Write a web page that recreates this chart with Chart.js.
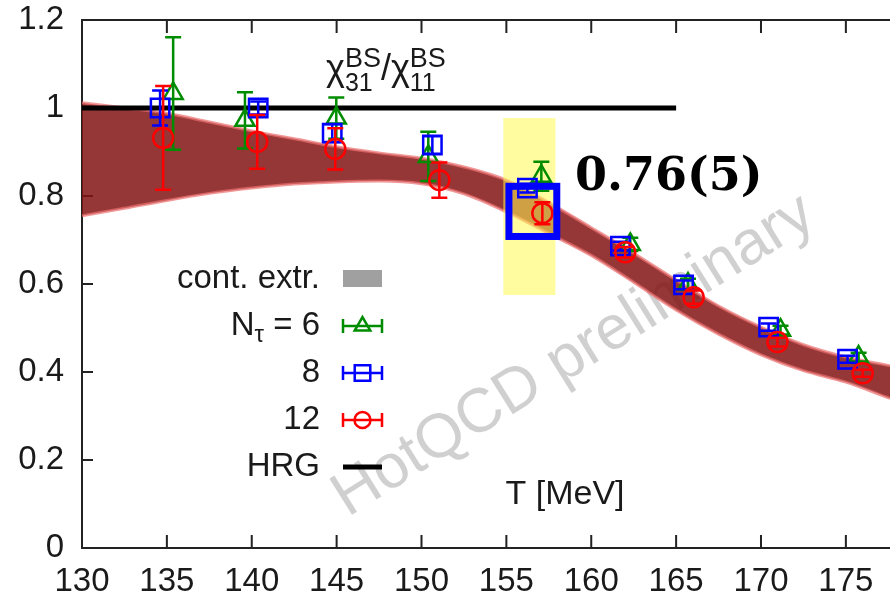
<!DOCTYPE html>
<html>
<head>
<meta charset="utf-8">
<script src="https://cdn.jsdelivr.net/npm/chart.js@4.4.0/dist/chart.umd.min.js"></script>
<style>
  html, body { margin: 0; padding: 0; background: #fff; }
  #wrap { width: 890px; height: 603px; }
</style>
</head>
<body>
<div id="wrap"><canvas id="myChart"></canvas></div>
<script>
// tick labels
const tempTicks = [130, 135, 140, 145, 150, 155, 160, 165, 170, 175];
const ratioTicks = [0, 0.2, 0.4, 0.6, 0.8, 1, 1.2];

// continuum extrapolation band
const bandT     = [130, 132.5, 135, 137.5, 140, 142.5, 145, 147.5, 150, 152.5, 155, 157.5, 160, 162.5, 165, 167.5, 170, 172.5, 175, 177.6];
const bandLower = [0.755, 0.772, 0.790, 0.806, 0.818, 0.827, 0.832, 0.834, 0.828, 0.805, 0.764, 0.715, 0.665, 0.604, 0.541, 0.486, 0.439, 0.403, 0.377, 0.340];
const bandUpper = [1.012, 1.000, 0.988, 0.968, 0.948, 0.930, 0.912, 0.898, 0.886, 0.866, 0.836, 0.785, 0.728, 0.670, 0.609, 0.550, 0.502, 0.462, 0.434, 0.414];

// HRG
const hrgT = [130, 165];
const hrgY = [1, 1];

// lattice data
const nt6T   = [135.37, 139.6, 144.98, 150.4, 157.06, 162.3, 165.7, 171.15, 175.75];
const nt6Y   = [1.033, 0.972, 0.977, 0.890, 0.845, 0.690, 0.600, 0.495, 0.434];
const nt6Err = [0.128, 0.064, 0.047, 0.056, 0.033, 0.015, 0.012, 0.010, 0.010];

const nt8T   = [134.6, 140.38, 144.74, 150.64, 156.24, 161.72, 165.44, 170.45, 175.1];
const nt8Y   = [1.000, 1.000, 0.943, 0.916, 0.818, 0.686, 0.598, 0.502, 0.429];
const nt8Err = [0.040, 0.015, 0.020, 0.020, 0.010, 0.010, 0.010, 0.008, 0.008];

const nt12T   = [134.78, 140.32, 144.92, 151.05, 157.12, 162.0, 166.03, 170.97, 175.99];
const nt12Y   = [0.932, 0.923, 0.907, 0.836, 0.761, 0.672, 0.570, 0.468, 0.397];
const nt12Err = [0.118, 0.061, 0.047, 0.040, 0.025, 0.012, 0.015, 0.010, 0.008];

// highlighted point
const highlightLabel = '0.76(5)';
const highlightX = [154.82, 157.89];
const highlightY = [0.575, 0.977];
const boxX = [155.15, 157.97];
const boxY = [0.708, 0.822];

const zip = (xs, ys) => xs.map((x, i) => ({ x: x, y: ys[i] }));

const GREEN = 'rgb(0,140,0)';
const BLUE = 'rgb(0,0,255)';
const RED = 'rgb(255,0,0)';
const SANS = "'Liberation Sans', Arial, sans-serif";

Chart.defaults.font.family = SANS;
Chart.defaults.color = '#1a1a1a';

// frame with inward ticks + watermark, drawn under the data
const framePlugin = {
    id: 'frame',
    beforeDatasetsDraw(chart) {
        const { ctx, chartArea: a, scales: { x, y } } = chart;
        ctx.save();
        // watermark
        ctx.translate(574, 356);
        ctx.rotate(-32 * Math.PI / 180);
        ctx.font = '62px ' + SANS;
        ctx.fillStyle = 'rgba(150,150,150,0.45)';
        ctx.textAlign = 'center';
        ctx.textBaseline = 'middle';
        ctx.fillText('HotQCD preliminary', 0, 0);
        ctx.restore();

        ctx.save();
        ctx.strokeStyle = '#222';
        ctx.lineWidth = 2;
        ctx.beginPath();
        ctx.moveTo(a.right + 2, a.top);
        ctx.lineTo(a.left, a.top);
        ctx.lineTo(a.left, a.bottom);
        ctx.lineTo(a.right + 2, a.bottom);
        tempTicks.forEach(t => {
            const p = x.getPixelForValue(t);
            ctx.moveTo(p, a.bottom); ctx.lineTo(p, a.bottom - 13);
            ctx.moveTo(p, a.top); ctx.lineTo(p, a.top + 13);
        });
        ratioTicks.forEach(v => {
            const p = y.getPixelForValue(v);
            ctx.moveTo(a.left, p); ctx.lineTo(a.left + 11, p);
        });
        ctx.stroke();
        ctx.restore();
    }
};

// error bars, yellow highlight, box, texts, legend
const overlayPlugin = {
    id: 'overlay',
    afterDatasetDraw(chart, args) {
        const { ctx, scales: { x, y } } = chart;
        const ds = chart.data.datasets[args.index];
        if (ds.label === 'HRG') {
            const x0 = x.getPixelForValue(highlightX[0]), x1 = x.getPixelForValue(highlightX[1]);
            const y0 = y.getPixelForValue(highlightY[1]), y1 = y.getPixelForValue(highlightY[0]);
            ctx.save();
            ctx.fillStyle = 'rgba(255,250,80,0.55)';
            ctx.fillRect(x0, y0, x1 - x0, y1 - y0);
            ctx.restore();
        }
        if (ds.errors) {
            ctx.save();
            ctx.strokeStyle = ds.borderColor;
            ctx.lineWidth = 2.5;
            ctx.beginPath();
            ds.data.forEach((d, i) => {
                const px = x.getPixelForValue(d.x);
                const top = y.getPixelForValue(d.y + ds.errors[i]);
                const bot = y.getPixelForValue(d.y - ds.errors[i]);
                ctx.moveTo(px, top); ctx.lineTo(px, bot);
                ctx.moveTo(px - 8, top); ctx.lineTo(px + 8, top);
                ctx.moveTo(px - 8, bot); ctx.lineTo(px + 8, bot);
            });
            ctx.stroke();
            ctx.restore();
        }
    },
    afterDraw(chart) {
        const { ctx, scales: { x, y } } = chart;
        ctx.save();
        // blue box
        const bx0 = x.getPixelForValue(boxX[0]), bx1 = x.getPixelForValue(boxX[1]);
        const by0 = y.getPixelForValue(boxY[1]), by1 = y.getPixelForValue(boxY[0]);
        ctx.strokeStyle = BLUE;
        ctx.lineWidth = 7;
        ctx.strokeRect(bx0, by0, bx1 - bx0, by1 - by0);

        ctx.fillStyle = '#000';
        ctx.textBaseline = 'alphabetic';
        ctx.textAlign = 'left';
        ctx.font = "bold 46px 'DejaVu Serif', serif";
        ctx.fillText(highlightLabel, 575, 190);

        // title chi^BS_31 / chi^BS_11
        ctx.fillStyle = '#1a1a1a';
        let cx = 326;
        const part = (main, sub, sup) => {
            ctx.font = '36px ' + SANS;
            ctx.fillText(main, cx, 80);
            cx += ctx.measureText(main).width;
            if (sub) {
                ctx.font = '25px ' + SANS;
                ctx.fillText(sub, cx, 91);
                const w1 = ctx.measureText(sub).width;
                ctx.font = '27px ' + SANS;
                ctx.fillText(sup, cx, 67);
                const w2 = ctx.measureText(sup).width;
                cx += Math.max(w1, w2);
            }
        };
        part('\u03c7', '31', 'BS');
        part('/');
        part('\u03c7', '11', 'BS');

        // axis label
        ctx.font = '34px ' + SANS;
        ctx.textAlign = 'center';
        ctx.textBaseline = 'middle';
        ctx.fillText('T [MeV]', 565, 495);

        // legend
        const rows = [279, 326, 373, 420, 467];
        const tx = 320, sx0 = 343, sx1 = 382, sc = (sx0 + sx1) / 2;
        ctx.textAlign = 'right';
        ctx.font = '33px ' + SANS;
        ctx.fillText('cont. extr.', tx, rows[0]);
        ctx.fillStyle = 'rgb(160,160,160)';
        ctx.fillRect(sx0, rows[0] - 9, sx1 - sx0, 17);
        ctx.fillStyle = '#1a1a1a';

        ctx.fillText(' = 6', tx, rows[1]);
        let w = ctx.measureText(' = 6').width;
        ctx.font = '24px ' + SANS;
        ctx.fillText('\u03c4', tx - w, rows[1] + 9);
        w += ctx.measureText('\u03c4').width;
        ctx.font = '33px ' + SANS;
        ctx.fillText('N', tx - w, rows[1]);
        ctx.fillText('8', tx, rows[2]);
        ctx.fillText('12', tx, rows[3]);
        ctx.fillText('HRG', tx, rows[4]);

        const sample = (row, color, style, r) => {
            ctx.strokeStyle = color;
            ctx.fillStyle = 'rgba(0,0,0,0)';
            ctx.lineWidth = 2.5;
            ctx.beginPath();
            ctx.moveTo(sx0, row); ctx.lineTo(sx1, row);
            ctx.moveTo(sx0, row - 7); ctx.lineTo(sx0, row + 7);
            ctx.moveTo(sx1, row - 7); ctx.lineTo(sx1, row + 7);
            ctx.stroke();
            Chart.helpers.drawPoint(ctx, { pointStyle: style, radius: r, rotation: 0, borderWidth: 2.5 }, sc, row);
        };
        sample(rows[1], GREEN, 'triangle', 9);
        sample(rows[2], BLUE, 'rect', 11);
        sample(rows[3], RED, 'circle', 8);
        ctx.strokeStyle = '#000';
        ctx.lineWidth = 5;
        ctx.beginPath();
        ctx.moveTo(sx0, rows[4]); ctx.lineTo(sx1, rows[4]);
        ctx.stroke();
        ctx.restore();
    }
};

const pointSet = (label, xs, ys, errs, color, style, r, order) => ({
    type: 'scatter',
    label: label,
    data: zip(xs, ys),
    errors: errs,
    showLine: false,
    borderColor: color,
    backgroundColor: 'rgba(0,0,0,0)',
    pointStyle: style,
    pointRadius: r,
    pointBorderWidth: 2.5,
    pointBorderColor: color,
    pointBackgroundColor: 'rgba(0,0,0,0)',
    clip: false,
    order: order
});

const ctx = document.getElementById('myChart').getContext('2d');
const myChart = new Chart(ctx, {
    type: 'scatter',
    data: {
        datasets: [
            {
                type: 'line', label: 'upper', data: zip(bandT, bandUpper),
                borderColor: 'rgba(235,110,110,0.7)', borderWidth: 3,
                backgroundColor: 'rgba(130,20,20,0.85)', fill: '+1',
                pointRadius: 0, cubicInterpolationMode: 'monotone', order: 10
            },
            {
                type: 'line', label: 'lower', data: zip(bandT, bandLower),
                borderColor: 'rgba(235,110,110,0.7)', borderWidth: 3,
                fill: false, pointRadius: 0, cubicInterpolationMode: 'monotone', order: 9
            },
            {
                type: 'line', label: 'HRG', data: zip(hrgT, hrgY),
                borderColor: '#000', borderWidth: 5, fill: false,
                pointRadius: 0, order: 8
            },
            pointSet('Nt6', nt6T, nt6Y, nt6Err, GREEN, 'triangle', 11, 3),
            pointSet('Nt8', nt8T, nt8Y, nt8Err, BLUE, 'rect', 13, 2),
            pointSet('Nt12', nt12T, nt12Y, nt12Err, RED, 'circle', 10, 1)
        ]
    },
    options: {
        responsive: true,
        maintainAspectRatio: false,
        animation: false,
        layout: { autoPadding: false, padding: { top: 20, left: 0, right: 0, bottom: 0 } },
        plugins: {
            legend: { display: false },
            tooltip: { enabled: false }
        },
        scales: {
            x: {
                type: 'linear',
                min: 130,
                max: 177.6,
                afterBuildTicks: s => { s.ticks = tempTicks.map(v => ({ value: v })); },
                afterFit: s => { s.height = 55; s.paddingLeft = 0; s.paddingRight = 0; },
                grid: { display: false, drawTicks: false },
                border: { display: false },
                ticks: { font: { size: 33 }, padding: 14, maxRotation: 0, color: '#1a1a1a' }
            },
            y: {
                min: 0,
                max: 1.2,
                afterBuildTicks: s => { s.ticks = ratioTicks.map(v => ({ value: v })); },
                afterFit: s => { s.width = 82; s.paddingTop = 0; s.paddingBottom = 0; },
                grid: { display: false, drawTicks: false },
                border: { display: false },
                ticks: {
                    font: { size: 33 }, padding: 18, color: '#1a1a1a',
                    callback: v => String(Math.round(v * 10) / 10)
                }
            }
        }
    },
    plugins: [framePlugin, overlayPlugin]
});
</script>
</body>
</html>
